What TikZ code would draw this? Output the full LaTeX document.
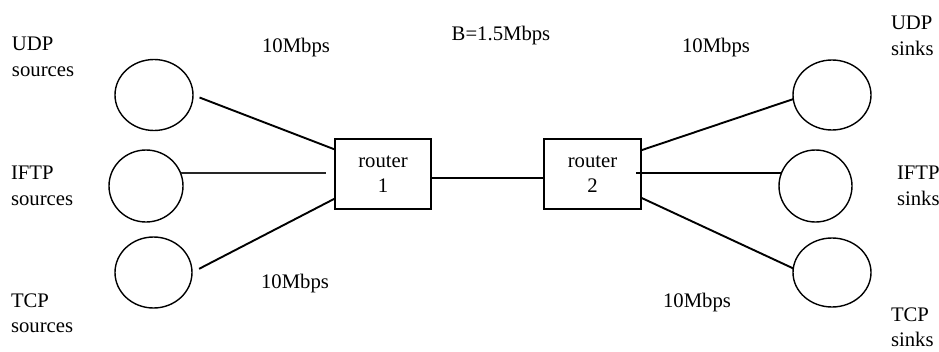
\documentclass[tikz,border=0pt]{standalone}
\usepackage{fontspec}
\setmainfont{Liberation Serif}
\usetikzlibrary{shapes.geometric}

\begin{document}
\begin{tikzpicture}[x=1pt,y=-1pt,
  every node/.style={font=\fontsize{20.7}{25.5}\selectfont,inner sep=0pt,outer sep=0pt},
  host/.style={draw,ellipse,line width=1.4pt},
  routerbox/.style={draw,rectangle,line width=1.6pt,align=center,minimum height=70pt},
  link/.style={line width=1.9pt},
  caption/.style={align=left,anchor=west}]

%Fix page size
\useasboundingbox (0,0) rectangle (939,351);

%Sources
\node[host,minimum width=78pt,minimum height=71pt] (udpsrc) at (154,95) {};
\node[host,minimum width=74pt,minimum height=72pt] (iftpsrc) at (146,186) {};
\node[host,minimum width=77pt,minimum height=71pt] (tcpsrc) at (153.5,272.5) {};

\node[caption] (udpsrclbl) at (12,57) {UDP\\sources};
\node[caption] (iftpsrclbl) at (11,186) {IFTP\\sources};
\node[caption] (tcpsrclbl) at (11,313) {TCP\\sources};

%Routers
\node[routerbox,minimum width=96pt] (r1) at (383,174) {router\\1};
\node[routerbox,minimum width=97pt] (r2) at (592.5,174) {router\\2};

%Sinks
\node[host,minimum width=78pt,minimum height=70pt] (udpsnk) at (832,95) {};
\node[host,minimum width=73pt,minimum height=72pt] (iftpsnk) at (815.5,186) {};
\node[host,minimum width=78pt,minimum height=69pt] (tcpsnk) at (832,272.5) {};

\node[caption] (udpsnklbl) at (891,36) {UDP\\sinks};
\node[caption] (iftpsnklbl) at (897,186) {IFTP\\sinks};
\node[caption] (tcpsnklbl) at (891,327) {TCP\\sinks};

%Links on the left
\draw[link,shorten <=7pt] (udpsrc.east) -- (r1.153);
\draw[line width=1.6pt,black!85,shorten >=9pt] ([yshift=0.5pt]iftpsrc.20) -- ([yshift=0.5pt]iftpsrc.20 -| r1.west);
\draw[link,shorten <=8pt] (tcpsrc.east) -- (r1.207);

%Bottleneck
\draw[link] ([yshift=-4pt]r1.east) -- ([yshift=-4pt]r2.west);

%Links on the right
\draw[link] (r2.26) -- (udpsnk.186);
\draw[link] ([xshift=-5pt,yshift=0.5pt]r2.east |- iftpsnk.160) -- ([yshift=0.5pt]iftpsnk.160);
\draw[link] (r2.334) -- (tcpsnk.174);

%Bandwidths
\node[anchor=base] (bwtl) at (296,52) {10Mbps};
\node[anchor=base] (bwbl) at (295,288) {10Mbps};
\node[anchor=base] (bwmid) at (501,40) {B=1.5Mbps};
\node[anchor=base] (bwtr) at (716,52) {10Mbps};
\node[anchor=base] (bwbr) at (697,307) {10Mbps};

\end{tikzpicture}
\end{document}
